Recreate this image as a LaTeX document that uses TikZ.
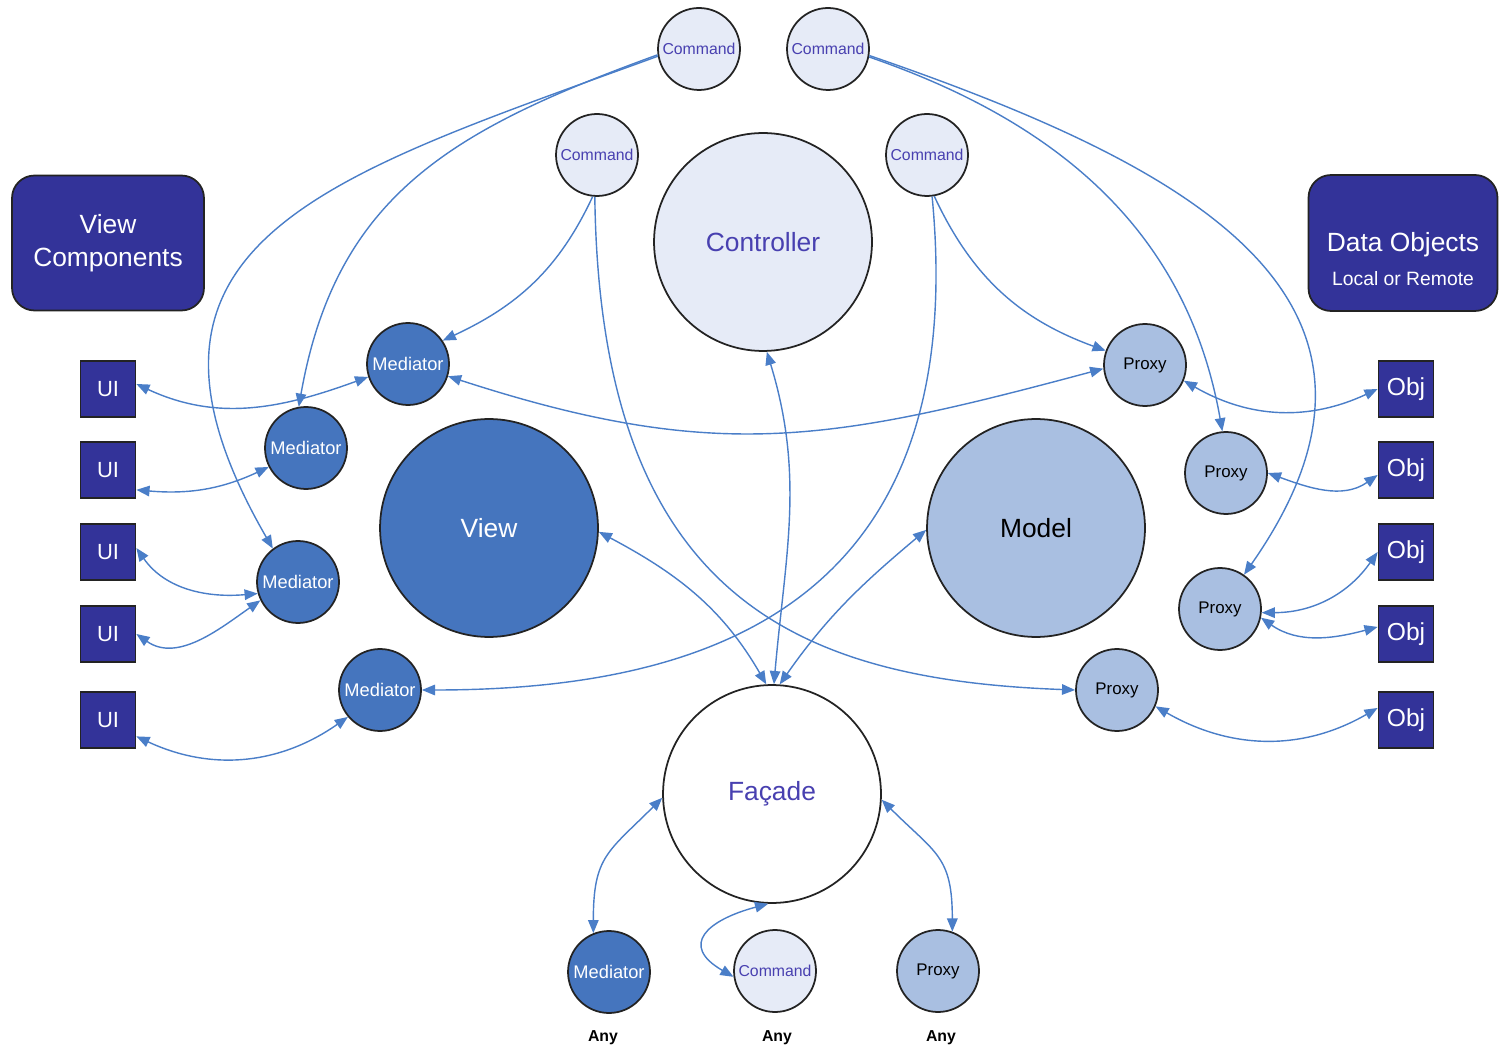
\documentclass[tikz,border=0pt]{standalone}
\usepackage{fontspec}
\setmainfont{Liberation Sans}
\usetikzlibrary{arrows.meta}

\definecolor{cmdfill}{RGB}{230,235,247}
\definecolor{cmdtext}{RGB}{72,64,176}
\definecolor{medfill}{RGB}{69,117,190}
\definecolor{proxfill}{RGB}{169,191,225}
\definecolor{boxfill}{RGB}{51,51,153}
\definecolor{linkblue}{RGB}{74,126,200}
\definecolor{rim}{RGB}{35,35,35}

\begin{document}
\begin{tikzpicture}[x=0.02cm,y=-0.02cm,
    >={Triangle[length=7.5pt,width=6pt]},
    link/.style={<->,linkblue,line width=0.8pt},
    linkto/.style={->,linkblue,line width=0.8pt},
    small/.style={circle,draw=rim,line width=1pt,minimum size=1.64cm,inner sep=0pt},
    big/.style={circle,draw=rim,line width=1pt,minimum size=4.36cm,inner sep=0pt,font=\fontsize{15}{18}\selectfont},
    cmd/.style={small,fill=cmdfill,text=cmdtext,font=\fontsize{9}{10}\selectfont},
    med/.style={small,fill=medfill,text=white,font=\fontsize{10.4}{11}\selectfont},
    prox/.style={small,fill=proxfill,text=black,font=\fontsize{9.6}{11}\selectfont},
    item/.style={rectangle,draw=rim,line width=1pt,fill=boxfill,text=white,minimum width=1.1cm,minimum height=1.12cm,inner sep=0pt},
    hub/.style={rectangle,rounded corners=0.45cm,draw=rim,line width=1pt,fill=boxfill,text=white,align=center},
    any/.style={font=\bfseries\fontsize{9}{10}\selectfont}]

    \useasboundingbox (0,0) rectangle (1500,1053);

    % core actors
    \node[big,fill=cmdfill,text=cmdtext] (ctrl) at (763,242) {Controller};
    \node[big,fill=medfill,text=white] (view) at (489,528) {View};
    \node[big,fill=proxfill,text=black] (model) at (1036,528) {Model};
    \node[big,fill=white,text=cmdtext] (fac) at (772,794) {Façade};

    \node[cmd] (cmda) at (699,49) {Command};
    \node[cmd] (cmdb) at (828,49) {Command};
    \node[cmd] (cmdc) at (597,155) {Command};
    \node[cmd] (cmdd) at (927,155) {Command};

    \node[med] (m1) at (408,364) {Mediator};
    \node[med] (m2) at (306,448) {Mediator};
    \node[med] (m3) at (298,582) {Mediator};
    \node[med] (m4) at (380,690) {Mediator};

    \node[prox] (p1) at (1145,365) {Proxy};
    \node[prox] (p2) at (1226,473) {Proxy};
    \node[prox] (p3) at (1220,609) {Proxy};
    \node[prox] (p4) at (1117,690) {Proxy};

    % side boxes
    \node[hub,minimum width=3.84cm,minimum height=2.7cm,font=\fontsize{15}{19}\selectfont] (vcbox) at (108,243) {View\\Components};
    \node[hub,minimum width=3.78cm,minimum height=2.72cm,font=\fontsize{15}{18}\selectfont] (dobox) at (1403,243) {\rule{0pt}{29pt}Data Objects\\[1pt]{\fontsize{11}{13}\selectfont Local or Remote}};

    \foreach \k/\yy in {1/389,2/470,3/552,4/634,5/720} {
        \node[item,font=\fontsize{12.5}{14}\selectfont] (ui\k) at (108,\yy) {UI};
        \node[item,font=\fontsize{14}{16}\selectfont] (obj\k) at (1406,\yy) {Obj};
    }

    % any actors
    \node[med] (mb) at (609,972) {Mediator};
    \node[cmd] (cb) at (775,971) {Command};
    \node[prox] (pb) at (938,971) {Proxy};
    \node[any] (anym) at (603,1038) {Any};
    \node[any] (anyc) at (777,1038) {Any};
    \node[any] (anyp) at (941,1038) {Any};

    % view side
    \draw[link] (ui1.10) to[out=-25,in=200] (m1.198);
    \draw[link] (ui2.-35) to[out=-5,in=205] (m2.207);
    \draw[link] (ui3.8) to[out=-55,in=185] (m3.196);
    \draw[link] (ui4.0) to[out=-35,in=215] (m3.206);
    \draw[link] (ui5.-30) to[out=-25,in=215] (m4.220);

    % model side
    \draw[link] (p1.-22) to[out=-30,in=205] (obj1.180);
    \draw[link] (p2.0) to[out=-20,in=215] (obj2.190);
    \draw[link] (p3.-5) to[out=0,in=235] (obj3.180);
    \draw[link] (p3.-12) to[out=-35,in=195] (obj4.166);
    \draw[link] (p4.-23) to[out=-30,in=210] (obj5.157);

    % facade
    \draw[link] (fac.182) to[out=225,in=90,looseness=1.3] (mb.112);
    \draw[link] (fac.-3) to[out=-45,in=90,looseness=1.3] (pb.70);
    \draw[link] (fac.-92) to[out=195,in=150,looseness=2] (cb.188);
    \draw[link] (ctrl.-88) to[out=-73,in=85] (fac.89);
    \draw[link] (view.-2) to[out=-28,in=120] (fac.93);
    \draw[link] (model.181) to[out=220,in=55] (fac.86);

    % commands
    \draw[linkto] (cmdc.-96) to[out=245,in=25] (m1.34);
    \draw[linkto] (cmdc.-93) .. controls (600,600) and (800,680) .. (p4.180);
    \draw[linkto] (cmdd.-80) to[out=-65,in=160] (p1.160);
    \draw[linkto] (cmdd.-83) .. controls (972,610) and (700,690) .. (m4.0);
    \draw[link] (m1.-17) to[out=-18,in=195,looseness=1.1] (p1.185);
    \draw[linkto] (cmda.188) to[out=200,in=80,looseness=1.1] (m2.100);
    \draw[linkto] (cmda.190) to[out=200,in=120,looseness=1.45] (m3.127);
    \draw[linkto] (cmdb.-11) to[out=-19,in=100] (p2.95);
    \draw[linkto] (cmdb.-9) to[out=-19,in=55,looseness=1.35] (p3.55);

\end{tikzpicture}
\end{document}
